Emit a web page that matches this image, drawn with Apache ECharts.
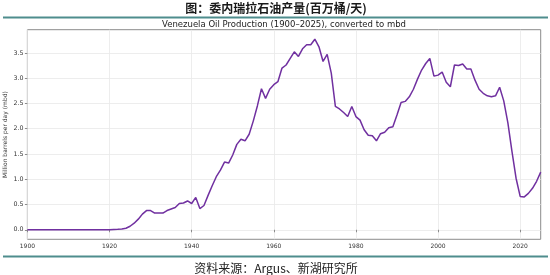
<!DOCTYPE html>
<html>
<head>
<meta charset="utf-8">
<script src="https://cdn.jsdelivr.net/npm/echarts@6/dist/echarts.min.js"></script>
<style>html,body{margin:0;padding:0;background:#fff;}#c{width:550px;height:275px;}</style>
</head>
<body>
<div id="c"></div>
<script>
// ---- data ----
const years = [];
for (let y = 1900; y <= 2025; y++) years.push(y);
const production = [
  0,0,0,0,0,0,0,0,0,0, 0,0,0,0,0,0,0,0,0,0, 0,            // 1900-1920
  0.004,0.008,0.015,0.03,0.07,0.13,0.21,0.31,0.38,         // 1921-1929
  0.38,0.33,0.33,0.33,0.38,0.41,0.44,0.52,0.53,0.57,       // 1930-1939
  0.52,0.64,0.42,0.48,0.68,0.87,1.05,1.18,1.34,1.32,       // 1940-1949
  1.48,1.69,1.79,1.76,1.89,2.15,2.45,2.79,2.60,2.78,       // 1950-1959
  2.87,2.93,3.20,3.26,3.39,3.52,3.43,3.58,3.66,3.66,       // 1960-1969
  3.77,3.62,3.33,3.47,3.10,2.44,2.39,2.32,2.24,2.44,       // 1970-1979
  2.24,2.17,1.98,1.87,1.86,1.76,1.90,1.93,2.02,2.04,       // 1980-1989
  2.27,2.52,2.54,2.63,2.78,2.98,3.16,3.29,3.39,3.04,       // 1990-1999
  3.06,3.12,2.92,2.83,3.26,3.25,3.28,3.18,3.18,2.96,       // 2000-2009
  2.78,2.70,2.65,2.63,2.65,2.82,2.55,2.12,1.55,1.02,       // 2010-2019
  0.66,0.65,0.72,0.82,0.96,1.14                            // 2020-2025
];
const xTicks = [1900, 1920, 1940, 1960, 1980, 2000, 2020];
const yTicks = [0.0, 0.5, 1.0, 1.5, 2.0, 2.5, 3.0, 3.5];
const mainTitle = '图：委内瑞拉石油产量(百万桶/天)';
const chartTitle = 'Venezuela Oil Production (1900–2025), converted to mbd';
const yName = 'Million barrels per day (mbd)';
const sourceText = '资料来源：Argus、新湖研究所';

// matplotlib-like 5% margins on y
const vMax = Math.max(...production), vMin = Math.min(...production);
const pad = (vMax - vMin) * 0.05;

const chart = echarts.init(document.getElementById('c'), null, {renderer: 'canvas'});
const EN = 'DejaVu Sans';
chart.setOption({
  animation: false,
  backgroundColor: '#fff',
  grid: {left: 27.4, right: 9.3, top: 29.7, bottom: 35.7, show: true, borderColor: '#8c8c8c', borderWidth: 1, containLabel: false, outerBoundsMode: 'none'},
  xAxis: {
    type: 'value', min: 1900, max: 2025,
    axisLine: {show: false},
    axisTick: {show: true, length: 2.5, lineStyle: {color: '#8c8c8c'}, customValues: xTicks},
    axisLabel: {customValues: xTicks, fontFamily: EN, fontSize: 6, color: '#333', margin: 4, formatter: v => String(v)},
    splitLine: {show: true, lineStyle: {color: '#e8e8e8', width: 0.8}}
  },
  yAxis: {
    type: 'value', min: vMin - pad, max: vMax + pad,
    name: yName, nameLocation: 'middle', nameGap: 18.5, nameMoveOverlap: false,
    nameTextStyle: {fontFamily: EN, fontSize: 6, color: '#333'},
    axisLine: {show: false},
    axisTick: {show: true, length: 2.5, lineStyle: {color: '#8c8c8c'}, customValues: yTicks},
    axisLabel: {customValues: yTicks, fontFamily: EN, fontSize: 6.3, color: '#333', margin: 4, formatter: v => v.toFixed(1)},
    splitLine: {show: true, lineStyle: {color: '#e8e8e8', width: 0.8}}
  },
  series: [{
    type: 'line',
    data: years.map((y, i) => [y, production[i]]),
    showSymbol: false, symbol: 'none',
    lineStyle: {color: '#7030a0', width: 1.5},
    z: 5
  }],
  graphic: [
    {type: 'text', x: 276, y: 8, style: {text: mainTitle, align: 'center', verticalAlign: 'middle', font: 'bold 12px "Noto Sans CJK SC"', fill: '#1a1a1a'}},
    {type: 'line', shape: {x1: 3, y1: 17.5, x2: 548, y2: 17.5}, style: {stroke: '#4e8d8d', lineWidth: 2}},
    {type: 'text', x: 284, y: 25, style: {text: chartTitle, align: 'center', verticalAlign: 'middle', font: '8.5px "DejaVu Sans"', fill: '#222'}},
    {type: 'line', shape: {x1: 3, y1: 256.5, x2: 548, y2: 256.5}, style: {stroke: '#4e8d8d', lineWidth: 2}},
    {type: 'text', x: 276, y: 268.5, style: {text: sourceText, align: 'center', verticalAlign: 'middle', font: '12px "Noto Sans CJK SC"', fill: '#222'}}
  ]
});
</script>
</body>
</html>
